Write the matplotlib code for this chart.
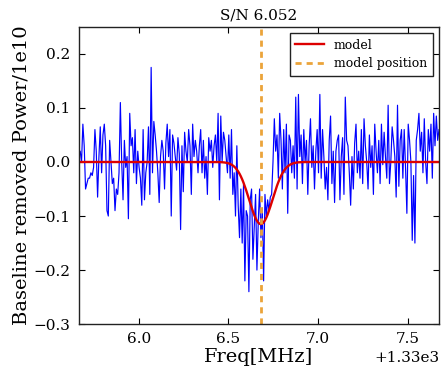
import numpy as np
import matplotlib
matplotlib.use("Agg")
import matplotlib.pyplot as plt
from matplotlib.ticker import ScalarFormatter

# ---- data ----
freq_start = 1335.667   # MHz
freq_stop = 1337.672    # MHz
power = [
    # 5.667 - 6.0
    0.01, 0.02, 0.00, 0.07, 0.03, -0.05, -0.04, -0.03, -0.03, -0.02, -0.025, -0.01, 0.06, 0.02, -0.065,
    0.01, 0.065, -0.02, 0.05, 0.07, 0.03, -0.09, -0.1, 0.04, 0.0, -0.04, -0.03, -0.09, -0.05, -0.06,
    -0.02, 0.11, 0.0, -0.07, 0.04, -0.01, 0.01, -0.105, 0.09, 0.03, 0.045, -0.02, 0.06, -0.04, 0.02,
    # 6.0 - 6.333
    -0.01, -0.03, -0.08, 0.06, -0.07, -0.02, 0.0, 0.065, -0.06, 0.175, -0.02, 0.075, 0.05, 0.02, -0.02,
    -0.075, 0.01, 0.04, 0.02, -0.05, 0.035, 0.07, 0.01, 0.06, -0.1, 0.05, 0.035, 0.01, -0.015, 0.045,
    0.015, -0.125, 0.03, -0.055, 0.055, 0.02, 0.0, 0.06, 0.03, -0.06, 0.07, 0.01, 0.04, 0.02, -0.02,
    # 6.333 - 6.667
    0.03, 0.06, -0.02, 0.04, -0.03, 0.01, -0.06, 0.045, 0.02, 0.04, -0.01, 0.03, 0.05, 0.0, 0.09,
    -0.07, 0.085, 0.0, 0.055, 0.04, 0.01, -0.02, 0.05, -0.03, 0.06, -0.06, -0.02, -0.1, 0.03, -0.08,
    -0.14, -0.05, -0.15, -0.04, -0.22, -0.09, -0.1, -0.24, -0.07, -0.05, -0.18, -0.12, -0.06, -0.2, -0.11,
    # 6.667 - 7.0
    -0.05, -0.14, -0.085, -0.22, -0.06, -0.1, -0.07, -0.09, -0.065, -0.06, 0.0, 0.08, 0.02, 0.05, -0.03,
    0.09, 0.04, -0.05, 0.06, -0.02, 0.07, -0.095, 0.05, 0.04, -0.02, 0.03, -0.03, 0.12, -0.05, 0.125,
    0.01, 0.05, -0.04, 0.06, 0.0, 0.04, -0.06, 0.03, 0.08, -0.01, 0.03, -0.05, 0.02, 0.06, -0.02,
    # 7.0 - 7.333
    0.125, -0.03, 0.06, 0.01, -0.05, -0.01, -0.07, 0.04, 0.085, -0.04, 0.02, -0.075, 0.02, 0.04, 0.05,
    -0.07, 0.01, 0.045, -0.06, 0.12, 0.04, 0.03, -0.02, -0.08, 0.01, -0.05, 0.035, 0.07, -0.02, 0.02,
    -0.03, 0.06, -0.04, 0.08, 0.03, 0.0, -0.05, 0.05, -0.01, 0.03, -0.06, 0.07, 0.02, -0.02, 0.04,
    # 7.333 - 7.672
    -0.04, 0.07, -0.005, 0.055, 0.01, -0.03, 0.105, -0.04, 0.0, 0.065, 0.04, 0.01, -0.065, 0.105, -0.045,
    0.04, 0.06, -0.03, 0.06, -0.01, -0.095, 0.07, 0.04, 0.0, -0.145, -0.025, -0.15, 0.04, 0.06, 0.09,
    0.02, 0.055, -0.02, 0.08, 0.0, -0.04, 0.06, 0.02, 0.07, -0.03, 0.09, 0.03, 0.085, 0.04, 0.06,
]
model_amp = -0.115
model_center = 1336.68
model_sigma = 0.065
snr_label = "S/N 6.052"

freq = np.linspace(freq_start, freq_stop, len(power))
model = model_amp * np.exp(-0.5 * ((freq - model_center) / model_sigma) ** 2)

plt.rcParams['font.family'] = ['DejaVu Serif']

fig = plt.figure(figsize=(4.43, 3.73), dpi=100, facecolor='white')
ax = fig.add_axes([0.178, 0.131, 0.813, 0.797])

ax.plot(freq, power, color='#0000ff', lw=0.85)
ax.plot(freq, model, color='#dd0000', lw=1.7, label='model')
ax.axvline(model_center, color='#eba43a', lw=2.0, ls=(0, (2.2, 1.8)), label='model position')

ax.set_xlim(freq_start, freq_stop)
ax.set_ylim(-0.3, 0.25)
ax.set_xticks([1336.0, 1336.5, 1337.0, 1337.5])
ax.set_yticks([-0.3, -0.2, -0.1, 0.0, 0.1, 0.2])
fmt = ScalarFormatter(useOffset=1330)
ax.xaxis.set_major_formatter(fmt)
ax.xaxis.get_offset_text().set_fontsize(11)

ax.tick_params(direction='in', top=True, right=True, labelsize=11, length=4, width=0.8, pad=6)
for s in ax.spines.values():
    s.set_linewidth(1.0)
    s.set_color('#222222')

ax.set_xlabel('Freq[MHz]', fontsize=14, labelpad=1)
ax.set_ylabel('Baseline removed Power/1e10', fontsize=14, labelpad=2)
ax.set_title(snr_label, fontsize=11, pad=5)

leg = ax.legend(loc='upper right', fontsize=9, fancybox=False, framealpha=1,
                edgecolor='#222222', handlelength=2.3, borderpad=0.45, labelspacing=0.45)
leg.get_frame().set_linewidth(1.0)

fig.savefig('out.png', dpi=100, facecolor='white')
